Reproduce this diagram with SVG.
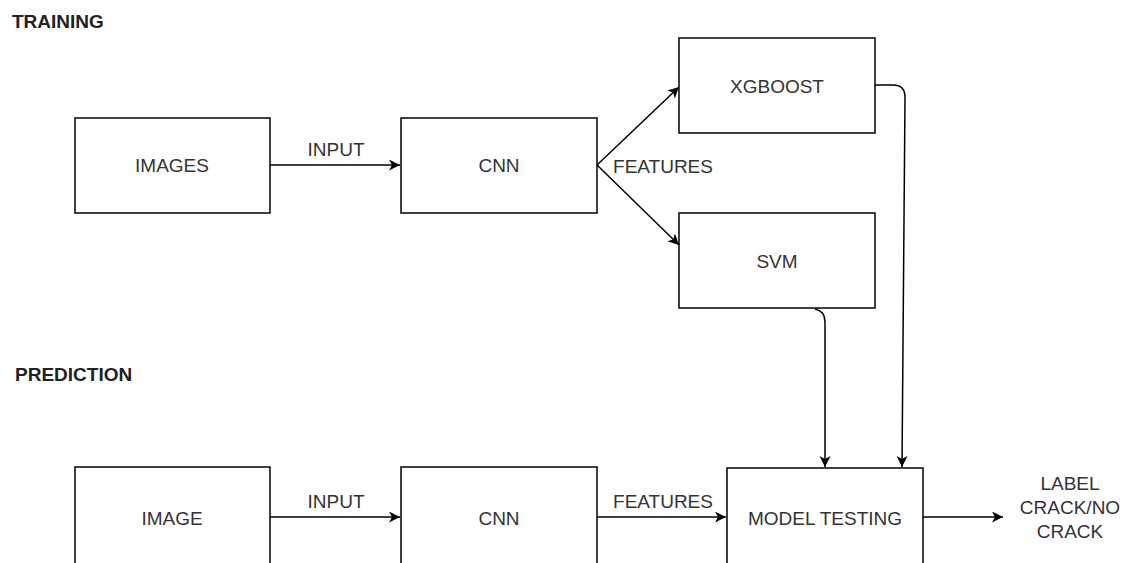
<svg xmlns="http://www.w3.org/2000/svg" width="1129" height="563" viewBox="0 0 1129 563">
<defs>
<marker id="ah" markerWidth="12" markerHeight="12" refX="11" refY="5.5" orient="auto" markerUnits="userSpaceOnUse">
<path d="M0,0 L11,5.5 L0,11 L3,5.5 Z" fill="#000"/>
</marker>
</defs>
<style>
.box{fill:#fff;stroke:#000;stroke-width:1.5}
.t{font-family:"Liberation Sans",Arial,sans-serif;font-size:19px;fill:#333;text-anchor:middle;dominant-baseline:central}
.h{font-family:"Liberation Sans",Arial,sans-serif;font-size:19px;font-weight:bold;fill:#222}
.c{fill:none;stroke:#000;stroke-width:1.5;marker-end:url(#ah)}
</style>
<rect width="1129" height="563" fill="#fff"/>
<text class="h" x="12" y="28">TRAINING</text>
<text class="h" x="15" y="381">PREDICTION</text>
<g id="images"><rect class="box" x="75" y="118" width="195" height="95"/><text class="t" x="172" y="165">IMAGES</text></g>
<g id="cnn1"><rect class="box" x="401" y="118" width="196" height="95"/><text class="t" x="499" y="165">CNN</text></g>
<g id="xgboost"><rect class="box" x="679" y="38" width="196" height="95"/><text class="t" x="777" y="86">XGBOOST</text></g>
<g id="svm"><rect class="box" x="679" y="213" width="196" height="95"/><text class="t" x="777" y="261">SVM</text></g>
<g id="image"><rect class="box" x="75" y="467" width="195" height="100"/><text class="t" x="172" y="518">IMAGE</text></g>
<g id="cnn2"><rect class="box" x="401" y="467" width="196" height="100"/><text class="t" x="499" y="518">CNN</text></g>
<g id="model"><rect class="box" x="727" y="468" width="196" height="100"/><text class="t" x="825" y="518">MODEL TESTING</text></g>
<g id="connectors">
<path class="c" d="M270,165 L400,165"/>
<path class="c" d="M597,165 L679,87"/>
<path class="c" d="M597,165 L679,245"/>
<path class="c" d="M875,85 L893,85 Q905,85 905,97 L902,467"/>
<path class="c" d="M815,309 Q825,311 825,322 L825,467"/>
<path class="c" d="M270,517 L400,517"/>
<path class="c" d="M597,517 L726,517"/>
<path class="c" d="M923,517 L1003,517"/>
</g>
<g id="labels">
<text class="t" x="336" y="149">INPUT</text>
<text class="t" x="663" y="166">FEATURES</text>
<text class="t" x="336" y="501">INPUT</text>
<text class="t" x="663" y="501">FEATURES</text>
<text class="t" x="1070" y="483">LABEL</text>
<text class="t" x="1070" y="507">CRACK/NO</text>
<text class="t" x="1070" y="531">CRACK</text>
</g>
</svg>
